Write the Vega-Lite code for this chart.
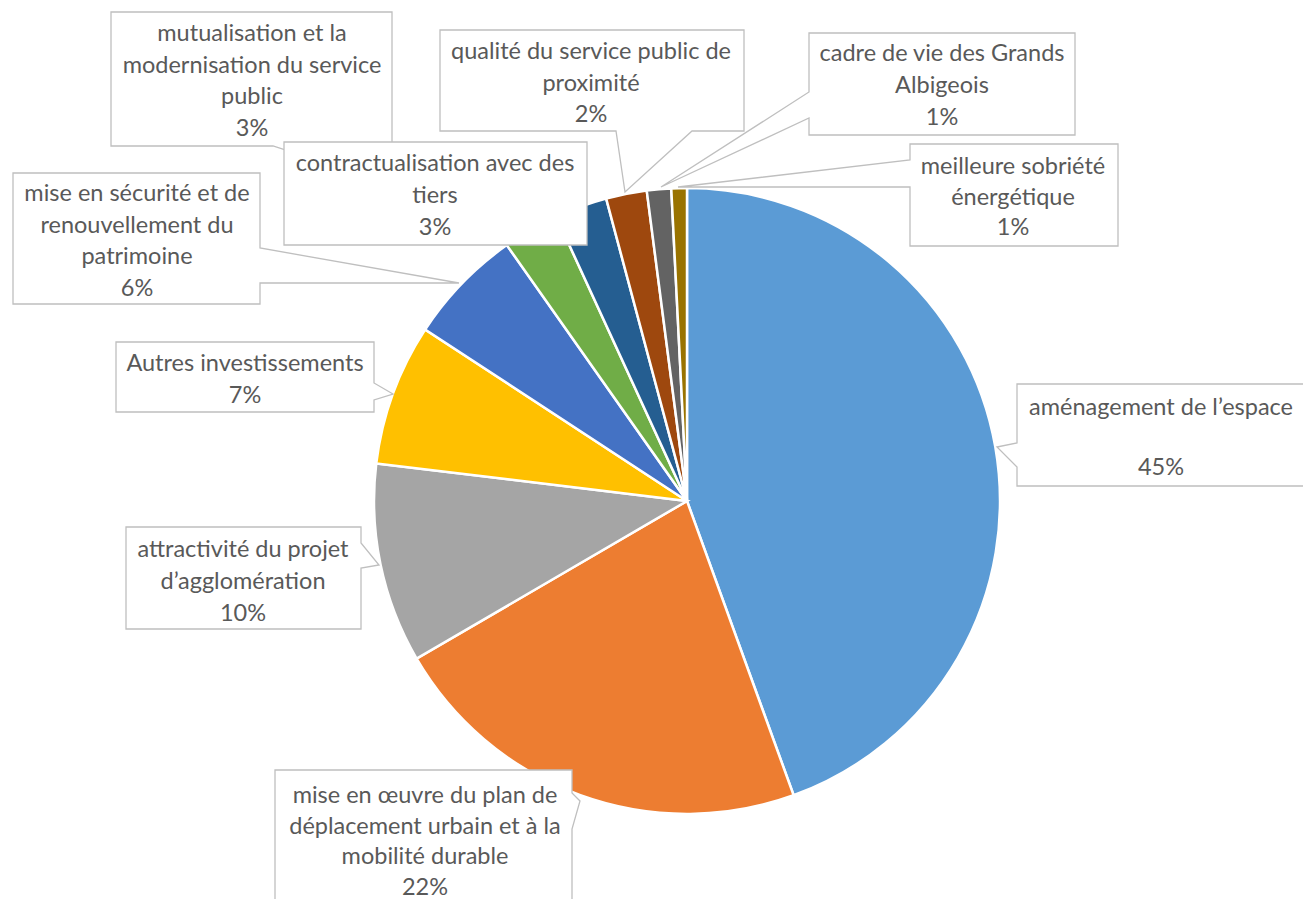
{
  "$schema": "https://vega.github.io/schema/vega-lite/v6.json",
  "width": 1232,
  "height": 798,
  "autosize": {"type": "none"},
  "padding": {"left": 71, "top": 102, "right": 0, "bottom": 0},
  "background": "white",
  "config": {"view": {"stroke": null}},
  "data": {
    "values": [
      {"rang": 1, "poste": "amenagement", "part": 44.4, "libelle": "aménagement de l’espace\n45%"},
      {"rang": 2, "poste": "deplacement", "part": 22.1, "libelle": "mise en œuvre du plan de\ndéplacement urbain et à la\nmobilité durable\n22%"},
      {"rang": 3, "poste": "attractivite", "part": 10.3, "libelle": "attractivité du projet\nd’agglomération\n10%"},
      {"rang": 4, "poste": "autres", "part": 7.3, "libelle": "Autres investissements\n7%"},
      {"rang": 5, "poste": "securite", "part": 6.0, "libelle": "mise en sécurité et de\nrenouvellement du\npatrimoine\n6%"},
      {"rang": 6, "poste": "mutualisation", "part": 2.9, "libelle": "mutualisation et la\nmodernisation du service\npublic\n3%"},
      {"rang": 7, "poste": "contractualisation", "part": 2.7, "libelle": "contractualisation avec des\ntiers\n3%"},
      {"rang": 8, "poste": "qualite", "part": 2.1, "libelle": "qualité du service public de\nproximité\n2%"},
      {"rang": 9, "poste": "cadre", "part": 1.25, "libelle": "cadre de vie des Grands\nAlbigeois\n1%"},
      {"rang": 10, "poste": "sobriete", "part": 0.8, "libelle": "meilleure sobriété\nénergétique\n1%"}
    ]
  },
  "layer": [
    {
      "mark": {"type": "arc", "radius": 313, "stroke": "white", "strokeWidth": 2.5},
      "encoding": {
        "theta": {"field": "part", "type": "quantitative", "stack": true},
        "order": {"field": "rang", "type": "quantitative"},
        "color": {
          "field": "poste", "type": "nominal", "legend": null,
          "scale": {
            "domain": ["amenagement", "deplacement", "attractivite", "autres", "securite", "mutualisation", "contractualisation", "qualite", "cadre", "sobriete"],
            "range": ["#5B9BD5", "#ED7D31", "#A5A5A5", "#FFC000", "#4472C4", "#70AD47", "#255E91", "#9E480E", "#636363", "#997300"]
          }
        }
      }
    },
    {
      "mark": {"type": "point", "filled": true, "fill": "white", "stroke": "#BFBFBF", "strokeWidth": 1.3, "opacity": 1, "size": 4},
      "encoding": {
        "shape": {
          "field": "poste", "type": "nominal", "legend": null,
          "scale": {
            "domain": ["amenagement", "deplacement", "attractivite", "autres", "securite", "mutualisation", "contractualisation", "qualite", "cadre", "sobriete"],
            "range": [
              "M330,-117H618V-15H330V-34L310,-54L330,-58Z",
              "M-412,269H-115V292L-107,300L-115,328V419H-412Z",
              "M-561,26H-326V42L-308,64L-326,67V128H-561Z",
              "M-571,-159H-313V-118L-294,-107L-313,-101V-89H-571Z",
              "M-674,-328H-427V-253L-228,-218L-427,-218V-197H-674Z",
              "M-576,-489H-295V-355H-387L-157,-271L-414,-355H-576Z",
              "M-403,-359H-100V-256H-403Z",
              "M-247,-471H57V-370H5L-62,-309L-71,-370H-247Z",
              "M122,-468H388V-366H122V-383L-26,-314L122,-409Z",
              "M223,-357H431V-255H223V-314L-9,-314L223,-341Z"
            ]
          }
        }
      }
    },
    {
      "transform": [{"filter": {"field": "poste", "equal": "amenagement"}}],
      "mark": {"type": "text", "font": "Lato", "fontSize": 23.5, "color": "#595959", "align": "center", "baseline": "alphabetic", "lineBreak": "\n", "lineHeight": 60, "dx": 474, "dy": -86},
      "encoding": {"text": {"field": "libelle"}}
    },
    {
      "transform": [{"filter": {"field": "poste", "equal": "deplacement"}}],
      "mark": {"type": "text", "font": "Lato", "fontSize": 23.5, "color": "#595959", "align": "center", "baseline": "alphabetic", "lineBreak": "\n", "lineHeight": 30.7, "dx": -262, "dy": 302},
      "encoding": {"text": {"field": "libelle"}}
    },
    {
      "transform": [{"filter": {"field": "poste", "equal": "attractivite"}}],
      "mark": {"type": "text", "font": "Lato", "fontSize": 23.5, "color": "#595959", "align": "center", "baseline": "alphabetic", "lineBreak": "\n", "lineHeight": 32, "dx": -444, "dy": 56},
      "encoding": {"text": {"field": "libelle"}}
    },
    {
      "transform": [{"filter": {"field": "poste", "equal": "autres"}}],
      "mark": {"type": "text", "font": "Lato", "fontSize": 23.5, "color": "#595959", "align": "center", "baseline": "alphabetic", "lineBreak": "\n", "lineHeight": 32, "dx": -442, "dy": -130},
      "encoding": {"text": {"field": "libelle"}}
    },
    {
      "transform": [{"filter": {"field": "poste", "equal": "securite"}}],
      "mark": {"type": "text", "font": "Lato", "fontSize": 23.5, "color": "#595959", "align": "center", "baseline": "alphabetic", "lineBreak": "\n", "lineHeight": 31.5, "dx": -550, "dy": -300},
      "encoding": {"text": {"field": "libelle"}}
    },
    {
      "transform": [{"filter": {"field": "poste", "equal": "mutualisation"}}],
      "mark": {"type": "text", "font": "Lato", "fontSize": 23.5, "color": "#595959", "align": "center", "baseline": "alphabetic", "lineBreak": "\n", "lineHeight": 31.5, "dx": -435, "dy": -460},
      "encoding": {"text": {"field": "libelle"}}
    },
    {
      "transform": [{"filter": {"field": "poste", "equal": "contractualisation"}}],
      "mark": {"type": "text", "font": "Lato", "fontSize": 23.5, "color": "#595959", "align": "center", "baseline": "alphabetic", "lineBreak": "\n", "lineHeight": 32, "dx": -252, "dy": -330},
      "encoding": {"text": {"field": "libelle"}}
    },
    {
      "transform": [{"filter": {"field": "poste", "equal": "qualite"}}],
      "mark": {"type": "text", "font": "Lato", "fontSize": 23.5, "color": "#595959", "align": "center", "baseline": "alphabetic", "lineBreak": "\n", "lineHeight": 31.5, "dx": -96, "dy": -442},
      "encoding": {"text": {"field": "libelle"}}
    },
    {
      "transform": [{"filter": {"field": "poste", "equal": "cadre"}}],
      "mark": {"type": "text", "font": "Lato", "fontSize": 23.5, "color": "#595959", "align": "center", "baseline": "alphabetic", "lineBreak": "\n", "lineHeight": 32, "dx": 255, "dy": -440},
      "encoding": {"text": {"field": "libelle"}}
    },
    {
      "transform": [{"filter": {"field": "poste", "equal": "sobriete"}}],
      "mark": {"type": "text", "font": "Lato", "fontSize": 23.5, "color": "#595959", "align": "center", "baseline": "alphabetic", "lineBreak": "\n", "lineHeight": 30.5, "dx": 326, "dy": -327},
      "encoding": {"text": {"field": "libelle"}}
    }
  ]
}
